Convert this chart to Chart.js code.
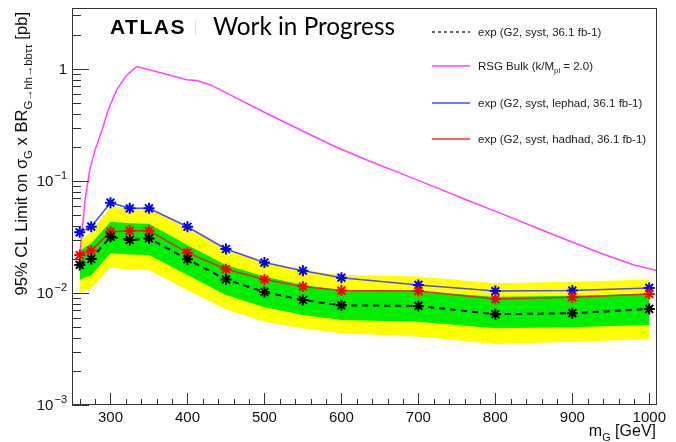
<!DOCTYPE html>
<html>
<head>
<meta charset="utf-8">
<script src="https://cdn.jsdelivr.net/npm/chart.js@4.4.1/dist/chart.umd.min.js"></script>
<style>
html, body { margin: 0; padding: 0; background: #fff; }
#wrap { width: 676px; height: 442px; }
</style>
</head>
<body>
<div id="wrap"><canvas id="limits" width="676" height="442"></canvas></div>
<script>
// mass points [GeV] and limits [pb]
var mass = [260, 275, 300, 325, 350, 400, 450, 500, 550, 600, 700, 800, 900, 1000];
var expMedian = [0.0178, 0.0201, 0.0318, 0.0297, 0.0307, 0.0200, 0.0132, 0.0102, 0.00866, 0.00776, 0.00766, 0.00646, 0.00660, 0.00720];
var expPlus1 = [0.0238, 0.0278, 0.0433, 0.0420, 0.0415, 0.0268, 0.0178, 0.0140, 0.0118, 0.0106, 0.0103, 0.00927, 0.00946, 0.0098];
var expMinus1 = [0.0131, 0.0145, 0.0226, 0.0220, 0.0218, 0.0145, 0.0096, 0.00744, 0.00637, 0.00574, 0.00555, 0.00484, 0.00494, 0.00518];
var expPlus2 = [0.0290, 0.0352, 0.0590, 0.0580, 0.0573, 0.0378, 0.0250, 0.0187, 0.0160, 0.0145, 0.0140, 0.0122, 0.0126, 0.0132];
var expMinus2 = [0.0099, 0.0110, 0.0169, 0.0162, 0.0160, 0.0106, 0.00715, 0.00555, 0.00484, 0.00437, 0.00408, 0.00350, 0.00367, 0.00386];
var lephad = [0.0348, 0.0391, 0.0640, 0.0570, 0.0570, 0.0390, 0.0247, 0.0187, 0.0158, 0.0137, 0.0118, 0.0104, 0.0105, 0.0111];
var hadhad = [0.0218, 0.0239, 0.0352, 0.0359, 0.0359, 0.0229, 0.0163, 0.0132, 0.0114, 0.0105, 0.0104, 0.00883, 0.00916, 0.0098];

// RSG bulk theory curve
var rsgMass = [260, 267, 273, 280, 289, 297, 308, 321, 334, 369, 399, 412, 430, 460, 503, 547, 590, 633, 677, 720, 763, 807, 850, 893, 937, 980, 1010];
var rsgXsec = [0.021, 0.068, 0.125, 0.189, 0.285, 0.43, 0.65, 0.88, 1.05, 0.91, 0.80, 0.79, 0.72, 0.566, 0.40, 0.285, 0.205, 0.154, 0.117, 0.089, 0.0676, 0.0514, 0.039, 0.0297, 0.0226, 0.0178, 0.0159];

// axis ticks
var xLabels = [300, 400, 500, 600, 700, 800, 900, 1000];
var yDecades = [-3, -2, -1, 0];

var legendLabels = [
    [['exp (G2, syst, 36.1 fb-1)', 0]],
    [['RSG Bulk (k/M', 0], ['pl', 1], [' = 2.0)', 0]],
    [['exp (G2, syst, lephad, 36.1 fb-1)', 0]],
    [['exp (G2, syst, hadhad, 36.1 fb-1)', 0]]
];
var legendColors = ['#333333', '#ff44ff', '#4a4aff', '#ff3030'];

var FONT = '"Liberation Sans", Arial, sans-serif';

function pts(xs, ys) {
    return xs.map(function(x, i) { return {x: x, y: ys[i]}; });
}

// text with subscripts: parts = [[text, isSub], ...]
function drawRich(ctx, parts, x, y, size, align) {
    var total = 0;
    parts.forEach(function(p) {
        ctx.font = (p[1] ? size * 0.68 : size) + 'px ' + FONT;
        total += ctx.measureText(p[0]).width;
    });
    var cx = align === 'right' ? x - total : x;
    parts.forEach(function(p) {
        ctx.font = (p[1] ? size * 0.68 : size) + 'px ' + FONT;
        ctx.fillText(p[0], cx, p[1] ? y + size * 0.3 : y);
        cx += ctx.measureText(p[0]).width;
    });
}

var rootLook = {
    id: 'rootLook',
    afterDraw: function(chart) {
        var ctx = chart.ctx, a = chart.chartArea;
        var xs = chart.scales.x, ys = chart.scales.y;
        ctx.save();
        ctx.strokeStyle = '#333';
        ctx.lineWidth = 1;
        ctx.strokeRect(a.left + 0.5, a.top + 0.5, a.right - a.left - 1, a.bottom - a.top - 1);

        // inward ticks
        ctx.beginPath();
        xs.ticks.forEach(function(t) {
            var px = Math.round(xs.getPixelForValue(t.value)) + 0.5;
            var len = t.value % 100 === 0 ? 12 : 6;
            ctx.moveTo(px, a.bottom);
            ctx.lineTo(px, a.bottom - len);
        });
        ys.ticks.forEach(function(t) {
            var py = Math.round(ys.getPixelForValue(t.value)) + 0.5;
            var e = Math.log10(t.value);
            var len = Math.abs(e - Math.round(e)) < 1e-6 ? 17 : 9;
            ctx.moveTo(a.left, py);
            ctx.lineTo(a.left + len, py);
        });
        ctx.stroke();

        // y labels with exponents
        ctx.fillStyle = '#111';
        ctx.textBaseline = 'alphabetic';
        ctx.textAlign = 'left';
        yDecades.forEach(function(e) {
            var py = ys.getPixelForValue(Math.pow(10, e));
            var right = a.left - 5;
            if (e === 0) {
                ctx.font = '15px ' + FONT;
                ctx.fillText('1', right - ctx.measureText('1').width, py + 5);
                return;
            }
            var sup = '\u2212' + (-e);
            ctx.font = '11px ' + FONT;
            var w2 = ctx.measureText(sup).width;
            ctx.fillText(sup, right - w2, py - 2);
            ctx.font = '15px ' + FONT;
            var w1 = ctx.measureText('10').width;
            ctx.fillText('10', right - w2 - w1 - 1, py + 5);
        });

        // axis titles
        ctx.fillStyle = '#111';
        drawRich(ctx, [['m', 0], ['G', 1], [' [GeV]', 0]], a.right - 1, 436, 16, 'right');
        ctx.save();
        ctx.translate(27, 12);
        ctx.rotate(-Math.PI / 2);
        drawRich(ctx, [['95% CL Limit on \u03c3', 0], ['G', 1], [' x BR', 0],
            ['G\u2192hh\u2192bb\u03c4\u03c4', 1], [' [pb]', 0]], 0, 0, 16.6, 'right');
        ctx.restore();

        // ATLAS label
        ctx.fillStyle = '#000';
        ctx.font = 'bold 21px ' + FONT;
        ctx.letterSpacing = '1.5px';
        ctx.fillText('ATLAS', 110, 34);
        ctx.letterSpacing = '0px';
        ctx.fillStyle = '#ddd';
        ctx.fillRect(195, 20, 1, 15);
        ctx.fillStyle = '#000';
        ctx.font = '20px Lato, sans-serif';
        var w = ctx.measureText('Work in Progress').width;
        ctx.font = (20 * 182 / w).toFixed(2) + 'px Lato, sans-serif';
        ctx.fillText('Work in Progress', 213, 35);

        // legend
        var rows = [32, 66, 103, 139];
        rows.forEach(function(y, i) {
            ctx.save();
            ctx.beginPath();
            ctx.strokeStyle = legendColors[i];
            ctx.lineWidth = 1.5;
            ctx.setLineDash(i === 0 ? [3, 3] : []);
            ctx.moveTo(432, y);
            ctx.lineTo(470, y);
            ctx.stroke();
            ctx.restore();
            ctx.fillStyle = '#222';
            drawRich(ctx, legendLabels[i], 478, y + 4, 11.5, 'left');
        });
        ctx.restore();
    }
};

var ctx = document.getElementById('limits').getContext('2d');
var chart = new Chart(ctx, {
    type: 'line',
    data: {
        datasets: [
            {   // expected median
                data: pts(mass, expMedian),
                borderColor: '#000', borderWidth: 2, borderDash: [6, 5],
                pointStyle: 'star', pointRadius: 5.5, pointBorderWidth: 2,
                pointBorderColor: '#000', fill: false, order: 0
            },
            {   // hadhad
                data: pts(mass, hadhad),
                borderColor: '#dd2a22', borderWidth: 1.5,
                pointStyle: 'star', pointRadius: 5.5, pointBorderWidth: 2,
                pointBorderColor: '#ff0000', fill: false, order: 1
            },
            {   // lephad
                data: pts(mass, lephad),
                borderColor: '#4a4aff', borderWidth: 1.5,
                pointStyle: 'star', pointRadius: 5.5, pointBorderWidth: 2,
                pointBorderColor: '#0000ff', fill: false, order: 2
            },
            {   // RSG bulk
                data: pts(rsgMass, rsgXsec),
                borderColor: '#ff44ff', borderWidth: 1.5,
                pointRadius: 0, fill: false, order: 3
            },
            {   // +1 sigma
                data: pts(mass, expPlus1),
                borderColor: 'rgba(0,0,0,0)', pointRadius: 0,
                backgroundColor: '#00ee00', fill: {target: 5}, order: 4
            },
            {   // -1 sigma
                data: pts(mass, expMinus1),
                borderColor: 'rgba(0,0,0,0)', pointRadius: 0, fill: false, order: 5
            },
            {   // +2 sigma
                data: pts(mass, expPlus2),
                borderColor: 'rgba(0,0,0,0)', pointRadius: 0,
                backgroundColor: '#ffff00', fill: {target: 7}, order: 6
            },
            {   // -2 sigma
                data: pts(mass, expMinus2),
                borderColor: 'rgba(0,0,0,0)', pointRadius: 0, fill: false, order: 7
            }
        ]
    },
    options: {
        responsive: false,
        animation: false,
        events: [],
        layout: { padding: { top: 8, right: 19, left: 0, bottom: 0 } },
        elements: { line: { tension: 0 } },
        plugins: {
            legend: { display: false },
            tooltip: { enabled: false }
        },
        scales: {
            x: {
                type: 'linear', min: 250, max: 1010,
                grid: { display: false, drawTicks: false }, border: { display: false },
                afterBuildTicks: function(s) {
                    var t = [];
                    for (var v = 260; v <= 1000; v += 20) t.push({value: v});
                    s.ticks = t;
                },
                afterFit: function(s) { s.height = 37; },
                ticks: {
                    autoSkip: false, maxRotation: 0, padding: 4,
                    color: '#111', font: { family: FONT, size: 15 },
                    callback: function(v) { return xLabels.indexOf(v) >= 0 ? String(v) : ''; }
                }
            },
            y: {
                type: 'logarithmic', min: 0.001, max: 3.5,
                grid: { display: false, drawTicks: false }, border: { display: false },
                afterBuildTicks: function(s) {
                    var t = [];
                    yDecades.forEach(function(e) {
                        for (var m = 1; m <= 9; m++) {
                            var v = m * Math.pow(10, e);
                            if (v <= 3.5) t.push({value: v});
                        }
                    });
                    s.ticks = t;
                },
                afterFit: function(s) { s.width = 72; },
                ticks: { display: false }
            }
        }
    },
    plugins: [rootLook]
});
</script>
</body>
</html>
